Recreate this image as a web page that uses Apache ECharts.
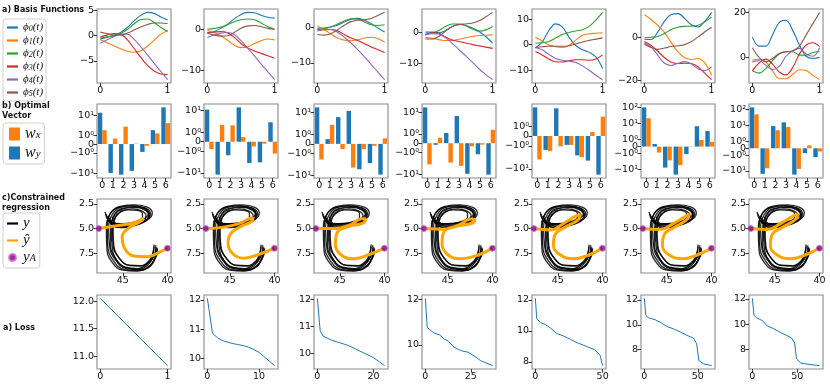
<!DOCTYPE html>
<html>
<head>
<meta charset="utf-8">
<script src="https://cdn.jsdelivr.net/npm/echarts@6/dist/echarts.min.js"></script>
<style>
html, body { margin: 0; padding: 0; background: #fff; }
#chart { width: 830px; height: 386px; }
</style>
</head>
<body>
<div id="chart"></div>
<script>
// ---------------- data ----------------
// row a) basis functions, sampled at t
const tGrid = [0, 0.1, 0.2, 0.3, 0.4, 0.5, 0.6, 0.7, 0.8, 0.9, 1];
const phiNames = ['φ0', 'φ1', 'φ2', 'φ3', 'φ4', 'φ5'];
const phiP1 = [
  [-0.7, -0.3, 0.0, 0.6, 1.6, 2.9, 4.0, 4.6, 4.4, 3.7, 3.1],
  [-0.8, -1.4, -2.0, -2.6, -3.1, -3.3, -3.0, -2.1, -0.9, 0.3, 1.0],
  [-0.5, -0.3, 0.0, 0.4, 1.2, 2.3, 3.2, 3.3, 2.6, 1.6, 0.8],
  [-0.3, 0.1, 0.4, 0.3, -0.8, -2.5, -4.3, -5.9, -7.0, -7.6, -7.7],
  [-1.5, -0.8, -0.2, 0.3, 0.3, -0.7, -2.2, -3.8, -5.5, -7.1, -8.7],
  [0.7, 0.4, 0.1, 0.1, 0.5, 1.1, 1.7, 2.2, 2.5, 2.5, 2.4]
];
const phiP2 = [
  [-1.0, -0.6, 0.2, 1.2, 2.5, 3.6, 4.1, 4.0, 3.4, 2.9, 2.7],
  [-0.3, -0.8, -1.6, -2.7, -3.9, -4.5, -4.3, -3.5, -2.8, -2.4, -2.6],
  [0.0, 0.2, 0.5, 1.1, 1.8, 2.3, 2.5, 2.3, 1.5, 0.6, 0.0],
  [-0.8, -0.7, -0.6, -0.9, -2.0, -3.5, -4.6, -5.3, -5.9, -6.5, -7.1],
  [-2.0, -1.4, -1.0, -0.8, -1.3, -2.8, -4.6, -6.5, -8.5, -10.4, -12.3],
  [-1.0, -1.4, -1.7, -1.6, -0.8, 0.2, 0.8, 0.9, 0.6, 0.2, 0.0]
];
const phiP3 = [
  [-0.3, -0.2, 0.1, 0.6, 1.5, 2.3, 2.5, 2.0, 1.0, -0.2, -1.3],
  [0.4, -0.6, -1.9, -3.0, -3.6, -3.8, -3.5, -3.0, -2.8, -3.2, -4.1],
  [-0.6, -0.4, 0.1, 0.9, 1.8, 2.4, 2.3, 1.5, 0.7, 0.5, 0.7],
  [-0.9, -0.7, -0.6, -1.0, -2.0, -3.0, -3.7, -4.6, -5.5, -6.3, -7.1],
  [-1.0, -0.6, -0.6, -1.4, -2.8, -4.4, -6.3, -8.3, -10.4, -12.6, -14.7],
  [-2.0, -2.2, -1.8, -0.7, 0.6, 1.6, 2.0, 2.1, 2.5, 3.3, 4.2]
];
const phiP4 = [
  [0.0, 0.0, -0.2, 0.5, 1.8, 2.4, 2.1, 1.3, 0.2, -1.5, -3.5],
  [-1.7, -2.0, -2.4, -2.7, -2.7, -2.3, -1.8, -1.4, -1.1, -1.0, -0.9],
  [-0.6, -0.3, 0.5, 1.8, 2.6, 2.6, 2.0, 1.0, 0.3, 0.7, 1.8],
  [-0.9, -0.2, -0.4, -1.6, -2.5, -3.0, -3.5, -4.0, -4.4, -4.8, -5.2],
  [-0.9, -0.5, -0.6, -1.8, -3.6, -5.6, -7.6, -9.7, -11.8, -13.6, -15.2],
  [-2.2, -2.2, -1.4, 0.3, 1.8, 2.4, 2.6, 2.9, 3.6, 4.9, 6.3]
];
const phiP5 = [
  [-1.3, 1.0, 5.5, 8.2, 7.0, 3.0, -0.3, -2.0, -3.0, -4.8, -9.3],
  [2.9, 1.5, 0.0, -0.8, -1.1, -0.3, 1.8, 3.7, 4.3, 4.5, 4.7],
  [0.7, 0.8, 1.3, 2.6, 4.0, 4.8, 5.4, 5.9, 7.2, 9.7, 12.7],
  [-2.7, -4.0, -5.6, -6.7, -6.8, -6.3, -5.9, -5.9, -6.1, -5.6, -4.0],
  [-1.1, -2.0, -3.8, -5.4, -6.1, -6.4, -7.0, -8.3, -10.0, -12.0, -13.7],
  [-1.1, -0.8, -0.6, -0.6, -0.6, -0.4, 0.3, 1.1, 1.7, 2.2, 2.7]
];
const phiP6 = [
  [-0.9, -1.0, 2.5, 7.5, 10.6, 11.0, 8.7, 5.8, 4.8, 7.5, 11.6],
  [10.5, 8.3, 5.5, 2.2, -2.5, -6.8, -9.5, -10.3, -9.9, -12.0, -17.7],
  [-0.2, 0.0, 0.4, 1.8, 3.6, 4.7, 5.1, 5.2, 5.6, 7.2, 9.4],
  [-2.0, -3.8, -6.5, -9.5, -11.6, -12.2, -12.1, -12.2, -13.8, -16.8, -19.7],
  [-2.5, -4.5, -8.4, -12.1, -13.1, -12.1, -11.3, -12.4, -14.7, -15.5, -13.8],
  [-3.1, -4.8, -5.6, -5.0, -4.3, -3.9, -3.4, -2.0, 0.2, 2.6, 4.7]
];
const phiP7 = [
  [9.0, 5.0, 5.0, 10.0, 15.5, 16.5, 12.0, 5.5, 0.5, -0.5, 0.0],
  [-1.2, -0.9, -2.0, -6.0, -9.5, -9.5, -7.5, -5.5, -5.8, -8.0, -9.9],
  [-6.0, -7.0, -5.0, -1.5, 1.5, 2.5, 2.5, 1.0, 1.0, 2.2, 2.5],
  [-6.0, -2.5, -0.8, -3.0, -6.5, -7.8, -4.5, 1.5, 5.5, 6.5, 4.8],
  [-2.0, -1.5, -3.5, -5.5, -4.0, 0.5, 3.0, 4.0, 1.5, 0.5, 4.3],
  [4.3, 0.0, -2.0, -0.5, 1.7, 2.5, 2.8, 5.0, 10.0, 15.0, 20.0]
];
const phiTicks = [[-5, 0, 5], [-10, 0], [-10, 0], [-10, 0], [-10, 0, 10], [-20, 0], [0, 20]];

// row b) optimal vector (symlog axis)
const barIdx = ['0', '1', '2', '3', '4', '5', '6'];
const wyP = [
  [13, -10, -12, -7.8, -0.9, 1.8, 24],
  [11, -12, -1.55, 14, -3.5, -3.3, 2.9],
  [17, 0.5, 6.1, 11.7, -5.3, -2.8, -9.3],
  [16.6, -0.17, 1.1, 6.6, -9.5, -1.2, -10.4],
  [6.6, -1.5, 6.0, -0.9, -2.6, -4.4, -18],
  [105, 0.37, -7.6, -21, -1.1, 6.9, 3.5],
  [141, -15, 9.3, 16, -17, -0.7, -1.35]
];
const wxP = [
  [1.8, 0.63, 2.7, 0.05, -0.2, 1.24, 4.0],
  [-0.78, 2.2, 2.1, 0.5, -0.5, -0.2, -1.3],
  [-1.9, 2.7, -0.55, -4.4, -0.55, -0.2, 0.58],
  [-3.5, 0.58, -2.9, -4.1, -0.33, -0.15, 1.55],
  [-3.9, -1.7, -1.05, -0.9, -3.1, 0.4, 2.6],
  [22, -0.86, -2.7, -5.4, -0.05, 0.96, 0.68],
  [51, -6.8, 5.1, 8.1, -7.4, 0.42, -0.47]
];
const symTicksA = [-10, -1, 0, 1, 10];
const symTicksB = [-10, -1, 0, 1];
const symTicksC = [-10, -1, 0, 1, 10, 100];
const symTickSets = [symTicksA, symTicksA, symTicksA, symTicksA, symTicksB, symTicksC, symTicksC];
const symLabels = { '100': '10²', '10': '10¹', '1': '10⁰', '0': '0', '-1': '−10⁰', '-10': '−10¹' };

// row c) constrained regression: demonstrations y, prediction y-hat, anchors y_A
const demoA = [[46.7, 3.7], [45.9, 4.6], [44.6, 4.65], [43.3, 4.45], [42.3, 4.05], [42.0, 3.6], [42.5, 3.1], [43.7, 2.85], [45.0, 3.0], [45.9, 3.6], [46.35, 4.9], [46.4, 6.5], [45.9, 7.9], [44.7, 8.9], [43.3, 9.05], [42.2, 8.5], [41.7, 7.7], [41.5, 6.8]];
const demoB = [[46.5, 3.95], [45.8, 4.7], [44.6, 4.75], [43.4, 4.5], [42.6, 4.1], [42.4, 3.65], [42.9, 3.2], [43.9, 3.0], [45.0, 3.15], [45.8, 3.8], [46.15, 5.0], [46.1, 6.6], [45.5, 7.9], [44.3, 8.7], [43.0, 8.75], [42.0, 8.2], [41.6, 7.4], [41.5, 6.6]];
const demoC = [[46.9, 3.5], [46.2, 4.5], [44.7, 4.55], [43.2, 4.35], [42.0, 3.95], [41.7, 3.4], [42.2, 2.85], [43.6, 2.6], [45.3, 2.75], [46.4, 3.5], [46.75, 5.0], [46.7, 6.7], [46.1, 8.2], [44.8, 9.15], [43.3, 9.25], [42.0, 8.8], [41.4, 7.9], [41.2, 6.9]];
const demoD = [[46.6, 3.75], [46.0, 4.8], [44.8, 4.9], [43.5, 4.6], [42.4, 4.2], [42.1, 3.7], [42.5, 3.1], [43.6, 2.8], [45.1, 2.95], [46.0, 3.65], [46.3, 5.1], [46.2, 6.8], [45.7, 8.2], [44.5, 9.0], [43.2, 9.1], [42.1, 8.6], [41.5, 7.7], [41.2, 7.2]];
const demoE = [[46.3, 4.2], [45.6, 4.85], [44.3, 4.8], [43.0, 4.5], [42.1, 4.0], [41.9, 3.5], [42.4, 2.95], [43.9, 2.7], [45.3, 2.85], [46.2, 3.6], [46.6, 5.0], [46.5, 6.7], [45.9, 8.1], [44.6, 9.05], [43.1, 9.15], [41.9, 8.7], [41.3, 7.8], [41.1, 7.0]];
const demoF = [[46.2, 3.8], [45.6, 4.55], [44.4, 4.5], [43.4, 4.25], [42.8, 3.9], [42.8, 3.5], [43.4, 3.15], [44.4, 3.1], [45.3, 3.35], [45.9, 3.95], [46.1, 5.2], [46.0, 6.8], [45.4, 8.0], [44.2, 8.75], [42.9, 8.8], [41.9, 8.3], [41.4, 7.5], [41.3, 6.7]];
const demoG = [[47.0, 3.3], [46.3, 4.4], [45.0, 4.5], [43.6, 4.35], [42.5, 3.95], [42.1, 3.45], [42.6, 2.9], [44.0, 2.7], [45.5, 2.85], [46.5, 3.6], [46.85, 5.1], [46.8, 6.9], [46.3, 8.3], [45.0, 9.2], [43.4, 9.3], [42.1, 8.95], [41.4, 8.1], [41.1, 7.4]];
const demos = [demoA, demoB, demoC, demoD, demoE, demoF, demoG];
const yhat1 = [[47.65, 5.0], [45.66, 4.7], [43.75, 4.4], [42.65, 3.95], [43.0, 4.25], [44.33, 4.93], [45.08, 5.83], [44.91, 6.8], [43.75, 7.78], [42.26, 7.85], [40.76, 7.33], [40.0, 6.97]];
const yhat2 = [[47.65, 5.0], [45.7, 4.85], [44.0, 4.5], [42.8, 4.0], [42.4, 3.9], [42.6, 4.3], [43.8, 4.8], [44.9, 5.5], [45.2, 6.5], [44.6, 7.6], [43.4, 8.0], [41.7, 7.6], [40.0, 6.97]];
const yhat3 = [[47.65, 5.0], [45.6, 5.0], [43.8, 4.6], [42.5, 4.0], [42.1, 4.0], [42.4, 4.45], [44.0, 4.8], [45.3, 5.4], [45.5, 6.6], [44.8, 7.7], [43.4, 8.05], [41.6, 7.6], [40.0, 6.97]];
const yhat4 = [[47.5, 5.0], [45.58, 5.06], [43.75, 4.63], [42.4, 4.03], [42.0, 4.1], [42.3, 4.46], [44.08, 4.78], [45.41, 5.29], [45.66, 6.5], [45.0, 7.65], [43.58, 8.05], [41.51, 7.65], [40.0, 6.97]];
const yhat5 = [[47.65, 5.0], [45.8, 5.13], [44.33, 4.46], [43.09, 3.78], [42.5, 3.6], [42.7, 4.1], [44.17, 4.85], [45.33, 5.63], [45.5, 6.65], [44.75, 7.65], [43.25, 8.05], [41.43, 7.65], [40.0, 6.97]];
const yhat6 = [[47.65, 5.0], [45.8, 5.1], [44.3, 4.5], [43.0, 3.8], [42.5, 3.55], [42.65, 4.0], [44.1, 4.85], [45.3, 5.6], [45.5, 6.7], [44.7, 7.7], [43.2, 8.05], [41.4, 7.6], [40.0, 6.97]];
const yhat7 = [[47.65, 5.0], [45.8, 5.1], [44.3, 4.45], [43.0, 3.75], [42.45, 3.55], [42.6, 4.0], [44.1, 4.85], [45.3, 5.6], [45.5, 6.7], [44.7, 7.7], [43.2, 8.05], [41.4, 7.6], [40.0, 6.97]];
const yhats = [yhat1, yhat2, yhat3, yhat4, yhat5, yhat6, yhat7];
const anchors = [[47.7, 5.0], [40.0, 7.0]];
const regXTicks = [45, 40];
const regYTicks = [2.5, 5.0, 7.5];

// row d) loss per iteration
const loss1 = [[0, 12.05], [1, 10.83]];
const loss2 = [[0, 12.05], [1, 10.85], [2, 10.7], [3, 10.6], [4, 10.55], [5, 10.5], [6, 10.47], [7, 10.43], [8, 10.38], [9, 10.3], [10, 10.2], [11, 10.05], [12, 9.9], [13, 9.75]];
const loss3 = [[0, 12.05], [1, 10.85], [2, 10.65], [5, 10.5], [8, 10.4], [11, 10.3], [14, 10.15], [17, 10.0], [20, 9.85], [22, 9.7], [24, 9.55]];
const loss4 = [[0, 12.03], [1, 10.78], [2.3, 10.67], [5, 10.5], [7.7, 10.44], [10.3, 10.26], [12.8, 10.15], [15.7, 9.9], [18.4, 9.79], [20.6, 9.72], [23.5, 9.68], [27.2, 9.49], [30.4, 9.31], [37, 9.09]];
const loss5 = [[0, 12.1], [1, 10.8], [3.7, 10.54], [7.4, 10.41], [11, 10.2], [16, 9.83], [21, 9.67], [26, 9.46], [31, 9.24], [36, 9.07], [40.6, 8.91], [44, 8.8], [48, 8.46], [50, 7.76]];
const loss6 = [[0, 12.13], [1.3, 10.76], [3.8, 10.57], [10, 10.41], [16, 10.14], [21, 9.86], [27, 9.68], [34, 9.41], [40, 9.14], [46, 8.92], [49, 8.46], [51, 7.11], [55.7, 6.84], [63, 6.7]];
const loss7 = [[0, 12.05], [1.8, 10.72], [4.2, 10.53], [11.6, 10.27], [16.4, 9.87], [22, 9.71], [29, 9.44], [36.6, 9.17], [43.4, 8.93], [47.2, 8.51], [49.2, 7.25], [54, 6.93], [61.7, 6.83], [75, 6.72]];
const losses = [loss1, loss2, loss3, loss4, loss5, loss6, loss7];
const lossXTicks = [[0, 1], [0, 10], [0, 20], [0, 25], [0, 50], [0, 50], [0, 50]];
const lossYTicks = [[11.0, 11.5, 12.0], [10, 11, 12], [10, 11, 12], [10, 12], [8, 10, 12], [8, 10, 12], [8, 10, 12]];

// ---------------- layout / style ----------------
const COL_LEFT = [97, 204, 314, 422, 532, 641, 749];
const ROW_TOP = [9, 104, 199, 295];
const PW = 74, PH = 74;
const TAB = ['#1f77b4', '#ff7f0e', '#2ca02c', '#d62728', '#9467bd', '#8c564b'];
const FS = 9.5;
const SANS = 'DejaVu Sans';
const SERIF = 'Liberation Serif';
const LINE_ICON = 'path://M0,0h20v4H0z';

const L = 0.43;
function symlog(v) {
  const a = Math.abs(v);
  return Math.sign(v) * (a <= 1 ? a * L : L + Math.log10(a));
}
function padRange(vals) {
  const lo = Math.min(...vals), hi = Math.max(...vals), d = (hi - lo) * 0.05;
  return [lo - d, hi + d];
}
const minus = s => String(s).replace('-', '−');

const grids = [], xAxes = [], yAxes = [], series = [];

function addGrid(col, row) {
  grids.push({ left: COL_LEFT[col], top: ROW_TOP[row], width: PW, height: PH,
    show: true, borderColor: '#8a8a8a', borderWidth: 1.1, backgroundColor: 'transparent' });
  return grids.length - 1;
}
function axis(gi, extra, ticks, fmt) {
  const a = {
    gridIndex: gi,
    axisLine: { show: false, onZero: false },
    splitLine: { show: false },
    axisTick: { show: true, length: 3.5, lineStyle: { color: '#333', width: 1 } },
    axisLabel: { fontSize: FS, color: '#111', margin: 3, fontFamily: SANS }
  };
  if (ticks) {
    a.axisTick.customValues = ticks;
    a.axisLabel.customValues = ticks;
    a.axisLabel.formatter = fmt;
  }
  return Object.assign(a, extra);
}

// row a) basis functions
const phiPanels = [phiP1, phiP2, phiP3, phiP4, phiP5, phiP6, phiP7];
phiPanels.forEach((panel, c) => {
  const gi = addGrid(c, 0);
  const yr = padRange(panel.flat());
  xAxes.push(axis(gi, { type: 'value', min: -0.05, max: 1.05 }, [0, 1], v => String(v)));
  yAxes.push(axis(gi, { type: 'value', min: yr[0], max: yr[1] }, phiTicks[c], v => minus(v)));
  panel.forEach((vals, k) => {
    series.push({
      name: phiNames[k], type: 'line', xAxisIndex: gi, yAxisIndex: gi,
      data: tGrid.map((t, i) => [t, vals[i]]), smooth: 0.35, symbol: 'none',
      lineStyle: { color: TAB[k], width: 1.1 }, itemStyle: { color: TAB[k] }
    });
  });
});

// row b) optimal vector
wyP.forEach((wy, c) => {
  const gi = addGrid(c, 1);
  const wx = wxP[c];
  const yr = padRange(wy.concat(wx).map(symlog));
  const ticks = symTickSets[c];
  const xa = axis(gi, { type: 'category', data: barIdx });
  xa.axisTick.alignWithLabel = true;
  xa.axisLabel.interval = 0;
  xAxes.push(xa);
  yAxes.push(axis(gi, { type: 'value', min: yr[0], max: yr[1] }, ticks.map(symlog), v => {
    const raw = ticks.find(t => Math.abs(symlog(t) - v) < 1e-6);
    return symLabels[String(raw)];
  }));
  series.push({ name: 'wy', type: 'bar', xAxisIndex: gi, yAxisIndex: gi, data: wy.map(symlog),
    barWidth: 4.4, barGap: '0%', itemStyle: { color: TAB[0] } });
  series.push({ name: 'wx', type: 'bar', xAxisIndex: gi, yAxisIndex: gi, data: wx.map(symlog),
    barWidth: 4.4, barGap: '0%', itemStyle: { color: TAB[1] } });
});

// row c) constrained regression
yhats.forEach((yh, c) => {
  const gi = addGrid(c, 2);
  xAxes.push(axis(gi, { type: 'value', min: 39.6, max: 47.9, inverse: true }, regXTicks, v => String(v)));
  yAxes.push(axis(gi, { type: 'value', min: 2.0, max: 9.5, inverse: true }, regYTicks, v => v.toFixed(1)));
  demos.forEach(d => {
    series.push({ name: 'y', type: 'line', xAxisIndex: gi, yAxisIndex: gi, data: d, smooth: 0.45,
      symbol: 'none', lineStyle: { color: 'rgba(0,0,0,0.85)', width: 1.3 }, itemStyle: { color: '#000' } });
  });
  series.push({ name: 'ŷ', type: 'line', xAxisIndex: gi, yAxisIndex: gi, data: yh, smooth: 0.45,
    symbol: 'none', lineStyle: { color: '#ffa500', width: 3 }, itemStyle: { color: '#ffa500' }, z: 3 });
  series.push({ name: 'yA', type: 'scatter', xAxisIndex: gi, yAxisIndex: gi, data: anchors,
    symbolSize: 6, itemStyle: { color: '#800080', borderColor: '#d070d0', borderWidth: 1 }, z: 4 });
});

// row d) loss
losses.forEach((ls, c) => {
  const gi = addGrid(c, 3);
  const n = ls[ls.length - 1][0];
  const yr = padRange(ls.map(p => p[1]));
  xAxes.push(axis(gi, { type: 'value', min: -0.05 * n, max: 1.05 * n }, lossXTicks[c], v => String(v)));
  yAxes.push(axis(gi, { type: 'value', min: yr[0], max: yr[1] }, lossYTicks[c],
    v => (c === 0 ? v.toFixed(1) : String(v))));
  series.push({ name: 'loss', type: 'line', xAxisIndex: gi, yAxisIndex: gi, data: ls, symbol: 'none',
    lineStyle: { color: TAB[0], width: 1 }, itemStyle: { color: TAB[0] } });
});

const legendBox = {
  orient: 'vertical', backgroundColor: 'rgba(255,255,255,0.8)', borderColor: '#d0d0d0',
  borderWidth: 1, borderRadius: 3, selectedMode: false, symbolKeepAspect: true
};
const mathRich = {
  m: { fontFamily: SERIF, fontStyle: 'italic', fontSize: 11, lineHeight: 10, color: '#111' },
  s: { fontFamily: SERIF, fontStyle: 'italic', fontSize: 8, lineHeight: 5, verticalAlign: 'bottom', color: '#111' },
  M: { fontFamily: SERIF, fontStyle: 'italic', fontSize: 16, lineHeight: 14, color: '#111' },
  S: { fontFamily: SERIF, fontStyle: 'italic', fontSize: 11, lineHeight: 7, verticalAlign: 'bottom', color: '#111' },
  N: { fontFamily: SERIF, fontStyle: 'italic', fontSize: 15, lineHeight: 12, color: '#111' },
  n: { fontFamily: SERIF, fontStyle: 'italic', fontSize: 10, lineHeight: 6, verticalAlign: 'bottom', color: '#111' }
};

const titleStyle = { fontFamily: SANS, fontWeight: 'bold', fontSize: 8, lineHeight: 10, color: '#111' };

const option = {
  animation: false,
  backgroundColor: '#fff',
  title: [
    { text: 'a) Basis Functions', left: 2, top: 5, padding: 0, textStyle: titleStyle },
    { text: 'b) Optimal\nVector', left: 2, top: 101, padding: 0, textStyle: titleStyle },
    { text: 'c)Constrained\nregression', left: 2, top: 193, padding: 0, textStyle: titleStyle },
    { text: 'a) Loss', left: 3, top: 323, padding: 0, textStyle: titleStyle }
  ],
  legend: [
    Object.assign({}, legendBox, {
      data: phiNames, left: 3, top: 19, padding: [3, 3, 3, 4], itemGap: 2,
      itemWidth: 11, itemHeight: 8, icon: LINE_ICON,
      formatter: n => `{m|ϕ}{s|${n.slice(1)}}{m|(t)}`, textStyle: { rich: mathRich }
    }),
    Object.assign({}, legendBox, {
      data: ['wx', 'wy'], left: 3, top: 123, padding: [3, 4, 3, 6], itemGap: 3,
      itemWidth: 11, itemHeight: 13, icon: 'rect',
      formatter: n => `{M|w}{S|${n.slice(1)}}`, textStyle: { rich: mathRich }
    }),
    Object.assign({}, legendBox, {
      data: [{ name: 'y', icon: LINE_ICON }, { name: 'ŷ', icon: LINE_ICON }, { name: 'yA', icon: 'circle' }],
      left: 3, top: 213, padding: [3, 4, 3, 4], itemGap: 2,
      itemWidth: 11, itemHeight: 7,
      formatter: n => (n === 'yA' ? '{N|y}{n|A}' : `{N|${n}}`), textStyle: { rich: mathRich }
    })
  ],
  grid: grids,
  xAxis: xAxes,
  yAxis: yAxes,
  series: series
};

const chart = echarts.init(document.getElementById('chart'), null, { renderer: 'canvas' });
chart.setOption(option);
</script>
</body>
</html>
